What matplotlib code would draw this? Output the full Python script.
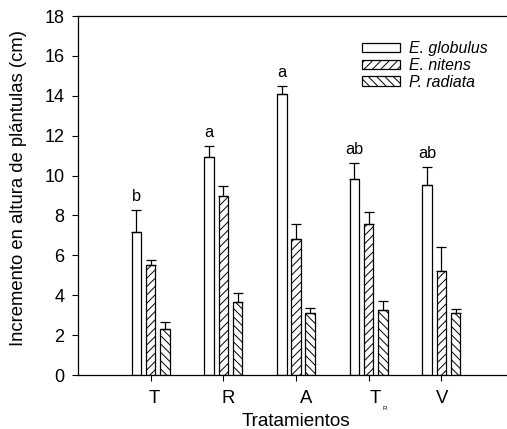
import numpy as np
import matplotlib
matplotlib.use("Agg")
import matplotlib.pyplot as plt
from matplotlib.transforms import ScaledTranslation

plt.rcParams["font.family"] = ["Liberation Sans", "DejaVu Sans"]
plt.rcParams["hatch.linewidth"] = 0.7

treatments = ["T", "R", "A", "T", "V"]
species = ["E. globulus", "E. nitens", "P. radiata"]
globulus = [7.19, 10.91, 14.08, 9.81, 9.53]
globulus_err = [1.08, 0.57, 0.41, 0.80, 0.92]
nitens = [5.52, 8.98, 6.80, 7.59, 5.20]
nitens_err = [0.25, 0.50, 0.79, 0.60, 1.20]
radiata = [2.31, 3.64, 3.09, 3.26, 3.09]
radiata_err = [0.36, 0.46, 0.25, 0.45, 0.20]
letters = ["b", "a", "a", "ab", "ab"]

fig = plt.figure(figsize=(5.07, 4.29), dpi=100)
ax = fig.add_axes([78 / 507, 1 - 375 / 429, 436 / 507, 359 / 429])

x = np.arange(1, len(treatments) + 1)
width = 0.13
offset = 0.195
series = [
    (globulus, globulus_err, ""),
    (nitens, nitens_err, "////"),
    (radiata, radiata_err, "\\\\\\\\"),
]
for i, (vals, errs, hatch) in enumerate(series):
    pos = x + (i - 1) * offset
    ax.bar(pos, vals, width, color="white", edgecolor="black", linewidth=0.9,
           hatch=hatch, label=species[i], zorder=2)
    ax.errorbar(pos, vals, yerr=[np.zeros(len(vals)), errs], fmt="none",
                ecolor="black", elinewidth=0.9, capsize=3.3, capthick=0.9, zorder=3)

for xi, v, e, lab in zip(x - offset, globulus, globulus_err, letters):
    ax.text(xi, v + e + 0.45, lab, ha="center", va="baseline", fontsize=11.7)

ax.set_xlim(0, 6)
ax.set_ylim(0, 18)
ax.set_yticks(np.arange(0, 19, 2))
ax.set_xticks(x)
ax.set_xticklabels(treatments, fontsize=13.3)
ax.tick_params(axis="y", labelsize=13, length=4.3, width=0.8, pad=5.5)
ax.tick_params(axis="x", length=4, width=0.8, pad=7)
for lbl, dx in zip(ax.get_xticklabels(), [4, 5, 10, 7, 1]):
    lbl.set_transform(lbl.get_transform() + ScaledTranslation(dx / 100, 0, fig.dpi_scale_trans))

ax.spines["right"].set_visible(False)
for s in ["left", "top", "bottom"]:
    ax.spines[s].set_linewidth(0.9)

# subscript of the fourth treatment label
ax.text(385 / 507, 21 / 429, "R", transform=fig.transFigure, fontsize=4.5,
        ha="center", va="center")

ax.set_xlabel("Tratamientos", fontsize=13.6, va="baseline")
ax.xaxis.set_label_coords(0.5, -0.143)
ax.set_ylabel("Incremento en altura de plántulas (cm)", fontsize=13.3, va="center")
ax.yaxis.set_label_coords(-0.137, 0.52)

leg = ax.legend(loc="upper left", bbox_to_anchor=((362 - 78) / 436, (375 - 41) / 359),
                frameon=False, fontsize=11.4, handlelength=2.4, handleheight=0.55,
                handletextpad=0.6, labelspacing=0.12, borderpad=0, borderaxespad=0)
for t in leg.get_texts():
    t.set_fontstyle("italic")

fig.savefig("out.png", dpi=100)
